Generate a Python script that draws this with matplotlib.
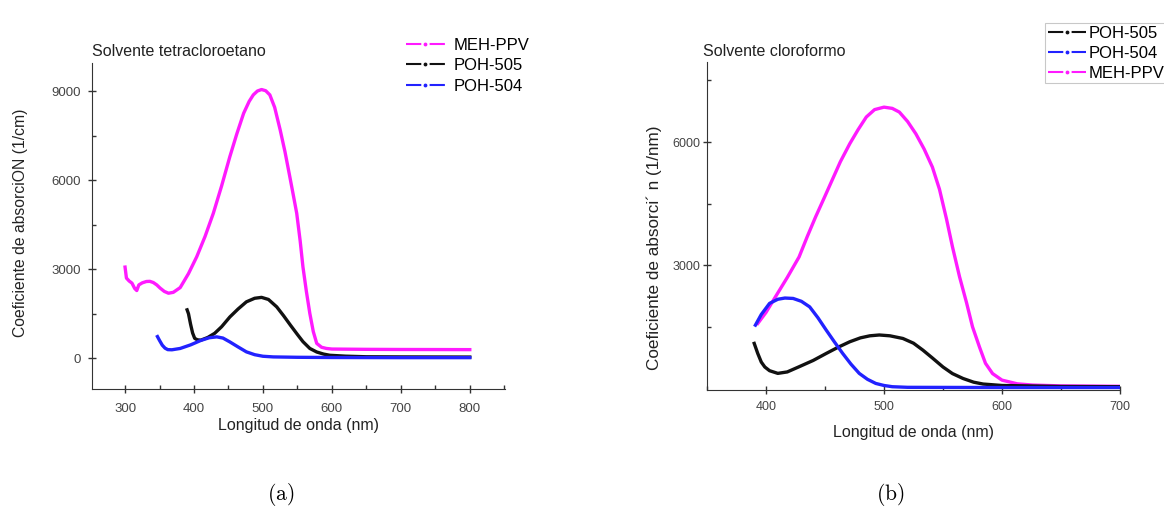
import matplotlib.pyplot as plt
from matplotlib.lines import Line2D

# panel (a): solvente tetracloroetano
wl_meh_a = [300, 302, 306, 310, 314, 317, 320, 325, 331, 336, 341, 346, 351, 357, 363, 370, 380, 392, 404, 416,
            428, 440, 452, 462, 472, 480, 486, 492, 498, 504, 510, 517, 525, 532, 539, 544, 549, 554, 558, 563,
            568, 573, 578, 585, 592, 600, 650, 700, 750, 800]
abs_meh_a = [3070, 2700, 2600, 2530, 2350, 2280, 2470, 2540, 2585, 2590, 2550, 2470, 2360, 2250, 2190, 2220, 2380,
             2850, 3420, 4100, 4880, 5800, 6790, 7550, 8250, 8650, 8870, 9000, 9050, 9010, 8870, 8450, 7690, 6950,
             6110, 5500, 4880, 3950, 3080, 2250, 1510, 900, 500, 370, 330, 310, 300, 295, 293, 290]

wl_505_a = [390, 392, 395, 398, 401, 405, 410, 420, 430, 440, 452, 464, 476, 488, 498, 508, 520, 530, 540, 550, 558,
            568, 578, 588, 597, 620, 650, 700, 800]
abs_505_a = [1630, 1500, 1150, 850, 670, 620, 610, 700, 840, 1060, 1390, 1660, 1900, 2020, 2050, 1980, 1730, 1430,
             1110, 800, 560, 330, 210, 140, 100, 70, 50, 45, 40]

wl_504_a = [347, 350, 354, 358, 362, 368, 380, 395, 410, 422, 433, 442, 452, 464, 476, 488, 500, 515, 550, 600, 700,
            800]
abs_504_a = [730, 600, 440, 340, 290, 285, 330, 450, 600, 690, 720, 680, 550, 380, 215, 120, 67, 45, 32, 25, 20, 20]

# panel (b): solvente cloroformo
wl_meh_b = [393, 400, 408, 418, 428, 435, 442, 449, 456, 463, 471, 478, 485, 492, 500, 507, 513, 520, 527, 534,
            541, 547, 553, 558, 564, 570, 575, 581, 586, 592, 600, 613, 626, 650, 700]
abs_meh_b = [1580, 1850, 2230, 2700, 3200, 3700, 4175, 4620, 5070, 5520, 5960, 6300, 6610, 6790, 6850, 6820, 6730,
             6500, 6200, 5830, 5390, 4850, 4120, 3450, 2720, 2080, 1500, 1000, 610, 360, 200, 110, 80, 60, 50]

wl_504_b = [391, 396, 403, 410, 416, 423, 430, 437, 444, 451, 458, 465, 472, 479, 486, 493, 500, 507, 520, 600, 700]
abs_504_b = [1540, 1800, 2070, 2170, 2200, 2190, 2120, 1985, 1720, 1420, 1130, 850, 590, 365, 220, 120, 70, 40, 25,
             20, 20]

wl_505_b = [390, 393, 396, 399, 403, 410, 418, 428, 440, 451, 461, 471, 480, 488, 496, 505, 516, 525, 533, 541,
            550, 558, 567, 576, 584, 600, 650, 700]
abs_505_b = [1095, 850, 640, 520, 430, 365, 400, 526, 680, 850, 1000, 1135, 1230, 1280, 1300, 1280, 1215, 1100, 930,
             740, 520, 360, 240, 150, 105, 70, 45, 40]

c_meh = '#ff1aff'
c_505 = '#111111'
c_504 = '#2222ff'

plt.rcParams['font.family'] = ['Liberation Sans', 'DejaVu Sans']
plt.rcParams['mathtext.fontset'] = 'cm'

fig = plt.figure(figsize=(11.64, 5.09), dpi=100)
ax1 = fig.add_axes([0.0790, 0.2358, 0.3548, 0.6405])
ax2 = fig.add_axes([0.6074, 0.2338, 0.3548, 0.6444])

lw = 2.4
ax1.plot(wl_meh_a, abs_meh_a, color=c_meh, lw=lw)
ax1.plot(wl_505_a, abs_505_a, color=c_505, lw=lw)
ax1.plot(wl_504_a, abs_504_a, color=c_504, lw=lw)

ax2.plot(wl_meh_b, abs_meh_b, color=c_meh, lw=lw)
ax2.plot(wl_505_b, abs_505_b, color=c_505, lw=lw)
ax2.plot(wl_504_b, abs_504_b, color=c_504, lw=lw)

ax1.set_xlim(252, 851)
ax1.set_ylim(-1035, 9945)
ax1.set_xticks([300, 400, 500, 600, 700, 800])
ax1.set_xticks([350, 450, 550, 650, 750, 850], minor=True)
ax1.set_yticks([0, 3000, 6000, 9000])
ax1.set_yticks([1500, 4500, 7500], minor=True)

ax2.set_xlim(350, 700)
ax2.set_ylim(-40, 7950)
ax2.set_xticks([400, 500, 600, 700])
ax2.set_xticks([350, 450, 550, 650], minor=True)
ax2.set_yticks([3000, 6000])
ax2.set_yticks([1500, 4500, 7500], minor=True)

for ax in (ax1, ax2):
    for s in ('top', 'right'):
        ax.spines[s].set_visible(False)
    ax.spines['left'].set_color('#333333')
    ax.spines['bottom'].set_color('#333333')
    ax.tick_params(which='major', direction='inout', length=6, width=1, colors='#333333', labelsize=9.5,
                   labelcolor='#444444')
    ax.tick_params(which='minor', direction='in', length=3, width=1, colors='#333333')
    ax.set_xlabel('Longitud de onda (nm)', fontsize=11.5, color='#222222')

ax1.tick_params(axis='x', which='major', pad=7)
ax1.tick_params(axis='y', which='major', pad=5)
ax2.tick_params(which='major', labelsize=9)
ax2.tick_params(axis='x', which='major', pad=5)
ax2.tick_params(axis='y', which='major', pad=2)
ax1.xaxis.labelpad = 2
ax2.xaxis.labelpad = 8.5

ax1.set_ylabel('Coeficiente de absorciON (1/cm)', fontsize=11.3, color='#222222')
ax1.yaxis.set_label_coords(-0.155, 0.51)
ax2.set_ylabel('Coeficiente de absorci´ n (1/nm)', fontsize=12.3, color='#222222')
ax2.yaxis.set_label_coords(-0.108, 0.433)

fig.text(0.079, 0.898, 'Solvente tetracloroetano', fontsize=11.5, color='#222222', va='center')
fig.text(0.604, 0.898, 'Solvente cloroformo', fontsize=11.5, color='#222222', va='center')


def handle(c):
    hl = 1.5
    return Line2D([], [], color=c, lw=hl, ls=(0, (11 / hl, 6 / hl)), marker='.', markersize=3.5)


fig.legend([handle(c_meh), handle(c_505), handle(c_504)], ['MEH-PPV', 'POH-505', 'POH-504'],
           loc='upper left', bbox_to_anchor=(406 / 1164, 1 - 38 / 509), frameon=False, fontsize=12,
           numpoints=1, handlelength=2.33, labelspacing=0.32, handletextpad=0.55, borderpad=0,
           borderaxespad=0)

leg2 = fig.legend([handle(c_505), handle(c_504), handle(c_meh)], ['POH-505', 'POH-504', 'MEH-PPV'],
                  loc='upper left', bbox_to_anchor=(1045 / 1164, 1 - 23 / 509), frameon=True, fontsize=12,
                  numpoints=1, handlelength=2.33, labelspacing=0.3, handletextpad=0.15, borderpad=0.15,
                  fancybox=False, borderaxespad=0)
leg2.get_frame().set_edgecolor('#bbbbbb')
leg2.get_frame().set_linewidth(0.8)

fig.text(281 / 1164, 1 - 495 / 509, r'$\mathrm{(a)}$', fontsize=15.5, ha='center', va='center')
fig.text(890 / 1164, 1 - 495 / 509, r'$\mathrm{(b)}$', fontsize=15.5, ha='center', va='center')

fig.savefig('out.png', dpi=100)
